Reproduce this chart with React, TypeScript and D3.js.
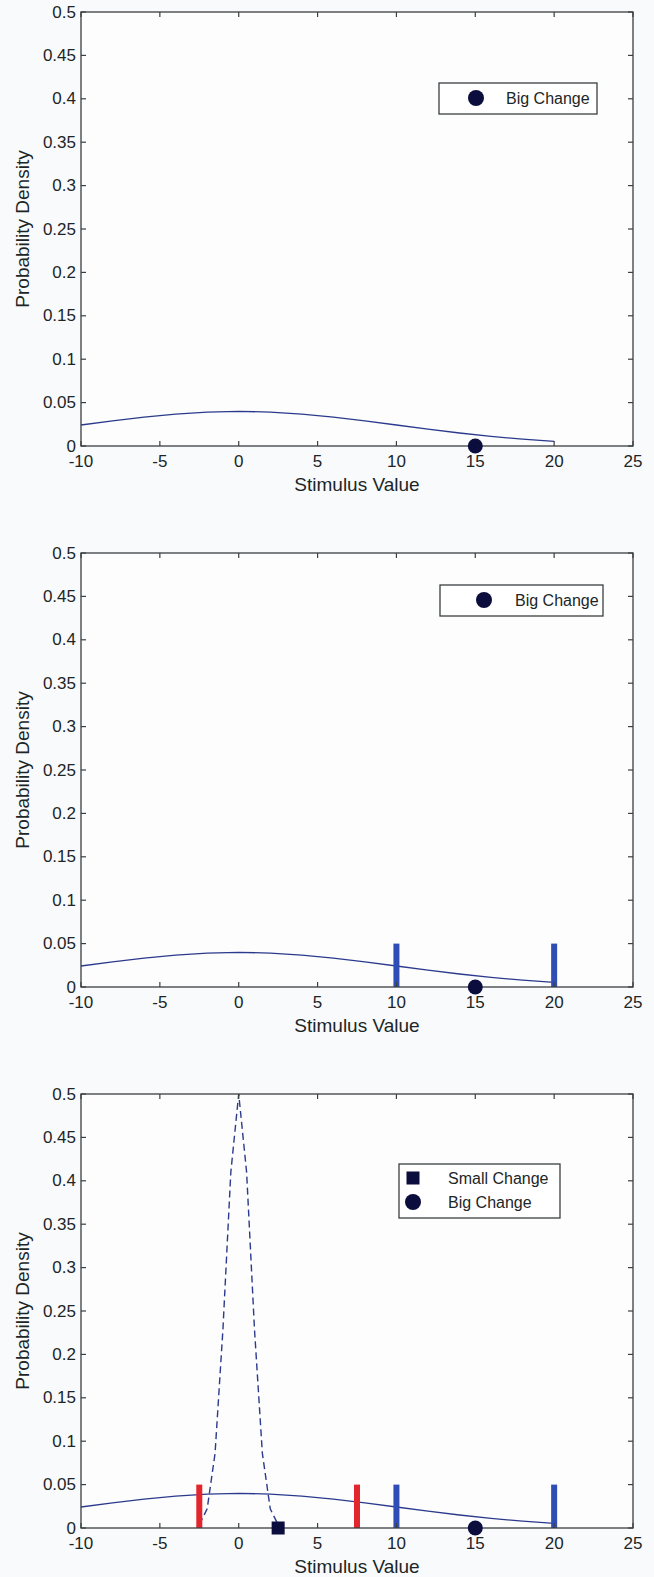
import React from "react";
import * as d3 from "d3";

const xTicks = [-10, -5, 0, 5, 10, 15, 20, 25];
const yTicks = [0, 0.05, 0.1, 0.15, 0.2, 0.25, 0.3, 0.35, 0.4, 0.45, 0.5];

// wide prior density
const wideX = [-10, -8, -6, -4, -2, 0, 2, 4, 6, 8, 10, 12, 14, 16, 18, 20];
const wideY = [0.0242, 0.029, 0.0333, 0.0368, 0.0391, 0.0399, 0.0391, 0.0368, 0.0333, 0.029, 0.0242, 0.0194, 0.015, 0.0111, 0.0079, 0.0054];

// narrow dashed density (panel 3)
const narrowX = [-2.5, -2, -1.5, -1, -0.5, 0, 0.5, 1, 1.5, 2, 2.5];
const narrowY = [0.0038, 0.022, 0.086, 0.229, 0.41, 0.5, 0.41, 0.229, 0.086, 0.022, 0.0038];

const bigChange = { x: 15, y: 0 };
const smallChange = { x: 2.5, y: 0 };
const blueBars = [10, 20];
const redBars = [-2.5, 7.5];
const barHeight = 0.05;

const FONT = "'Liberation Sans', Arial, Helvetica, sans-serif";
const TXT = "#1c2626";
const AX = "#3a3f40";
const LINE = "#2b3a8c";
const MARK = "#0b0d3d";

type PanelProps = {
  top: number;
  blue?: boolean;
  red?: boolean;
  dashed?: boolean;
  legend: { x0: number; y0: number; x1: number; y1: number; mx: number; tx: number; rows: number[] };
};

function Panel({ top, blue, red, dashed, legend }: PanelProps) {
  const left = 81, right = 633, h = 434;
  const x = d3.scaleLinear().domain([-10, 25]).range([left, right]);
  const y = d3.scaleLinear().domain([0, 0.5]).range([top + h, top]);
  const line = d3.line<number>().x((_, i) => x(wideX[i])).y((d) => y(d));
  const nline = d3.line<number>().x((_, i) => x(narrowX[i])).y((d) => y(d));
  const tk = 5;
  const bottom = top + h;
  return (
    <g>
      <rect x={left} y={top} width={right - left} height={h} fill="#fdfdfe" />
      <path d={line(wideY) || ""} fill="none" stroke={LINE} strokeWidth={1.3} />
      {dashed && (
        <path d={nline(narrowY) || ""} fill="none" stroke={LINE} strokeWidth={1.4} strokeDasharray="7,4" />
      )}
      {red &&
        redBars.map((v) => (
          <rect key={"r" + v} x={x(v) - 3} y={y(barHeight)} width={6} height={y(0) - y(barHeight)} fill="#e3262e" />
        ))}
      {blue &&
        blueBars.map((v) => (
          <rect key={"b" + v} x={x(v) - 3} y={y(barHeight)} width={6} height={y(0) - y(barHeight)} fill="#2f4db5" />
        ))}
      <rect x={left} y={top} width={right - left} height={h} fill="none" stroke={AX} strokeWidth={1.3} />
      {xTicks.map((t) => (
        <g key={"xt" + t}>
          <line x1={x(t)} x2={x(t)} y1={bottom} y2={bottom - tk} stroke={AX} strokeWidth={1.2} />
          <line x1={x(t)} x2={x(t)} y1={top} y2={top + tk} stroke={AX} strokeWidth={1.2} />
          <text x={x(t)} y={bottom + 21} textAnchor="middle" fontFamily={FONT} fontSize={17} fill={TXT}>
            {t}
          </text>
        </g>
      ))}
      {yTicks.map((t) => (
        <g key={"yt" + t}>
          <line x1={left} x2={left + tk} y1={y(t)} y2={y(t)} stroke={AX} strokeWidth={1.2} />
          <line x1={right} x2={right - tk} y1={y(t)} y2={y(t)} stroke={AX} strokeWidth={1.2} />
          <text x={76} y={y(t) + 5.5} textAnchor="end" fontFamily={FONT} fontSize={17} fill={TXT}>
            {t}
          </text>
        </g>
      ))}
      {dashed && (
        <rect x={x(smallChange.x) - 6.5} y={y(smallChange.y) - 6.5} width={13} height={13} fill={MARK} />
      )}
      <circle cx={x(bigChange.x)} cy={y(bigChange.y)} r={7.5} fill={MARK} />
      <text x={357} y={bottom + 45} textAnchor="middle" fontFamily={FONT} fontSize={19} fill={TXT}>
        Stimulus Value
      </text>
      <text
        transform={`translate(29,${top + h / 2}) rotate(-90)`}
        textAnchor="middle"
        fontFamily={FONT}
        fontSize={19}
        fill={TXT}
      >
        Probability Density
      </text>
      <rect
        x={legend.x0}
        y={legend.y0}
        width={legend.x1 - legend.x0}
        height={legend.y1 - legend.y0}
        fill="#ffffff"
        stroke={AX}
        strokeWidth={1.3}
      />
      {legend.rows.length === 1 ? (
        <g>
          <circle cx={legend.mx} cy={legend.rows[0]} r={8} fill={MARK} />
          <text x={legend.tx} y={legend.rows[0] + 6} fontFamily={FONT} fontSize={16} fill={TXT}>
            Big Change
          </text>
        </g>
      ) : (
        <g>
          <rect x={legend.mx - 6.5} y={legend.rows[0] - 6.5} width={13} height={13} fill={MARK} />
          <text x={legend.tx} y={legend.rows[0] + 6} fontFamily={FONT} fontSize={16} fill={TXT}>
            Small Change
          </text>
          <circle cx={legend.mx} cy={legend.rows[1]} r={8} fill={MARK} />
          <text x={legend.tx} y={legend.rows[1] + 6} fontFamily={FONT} fontSize={16} fill={TXT}>
            Big Change
          </text>
        </g>
      )}
    </g>
  );
}

export default function App() {
  return (
    <svg
      width={654}
      height={1577}
      style={{ position: "absolute", left: 0, top: 0, background: "#f9fafc" }}
    >
      <rect x={0} y={0} width={654} height={1577} fill="#f9fafc" />
      <Panel top={12} legend={{ x0: 439, y0: 83, x1: 597, y1: 114, mx: 476, tx: 506, rows: [98] }} />
      <Panel top={553} blue legend={{ x0: 440, y0: 585, x1: 603, y1: 616, mx: 484, tx: 515, rows: [600] }} />
      <Panel
        top={1094}
        blue
        red
        dashed
        legend={{ x0: 399, y0: 1164, x1: 560, y1: 1218, mx: 413, tx: 448, rows: [1178, 1202] }}
      />
    </svg>
  );
}
